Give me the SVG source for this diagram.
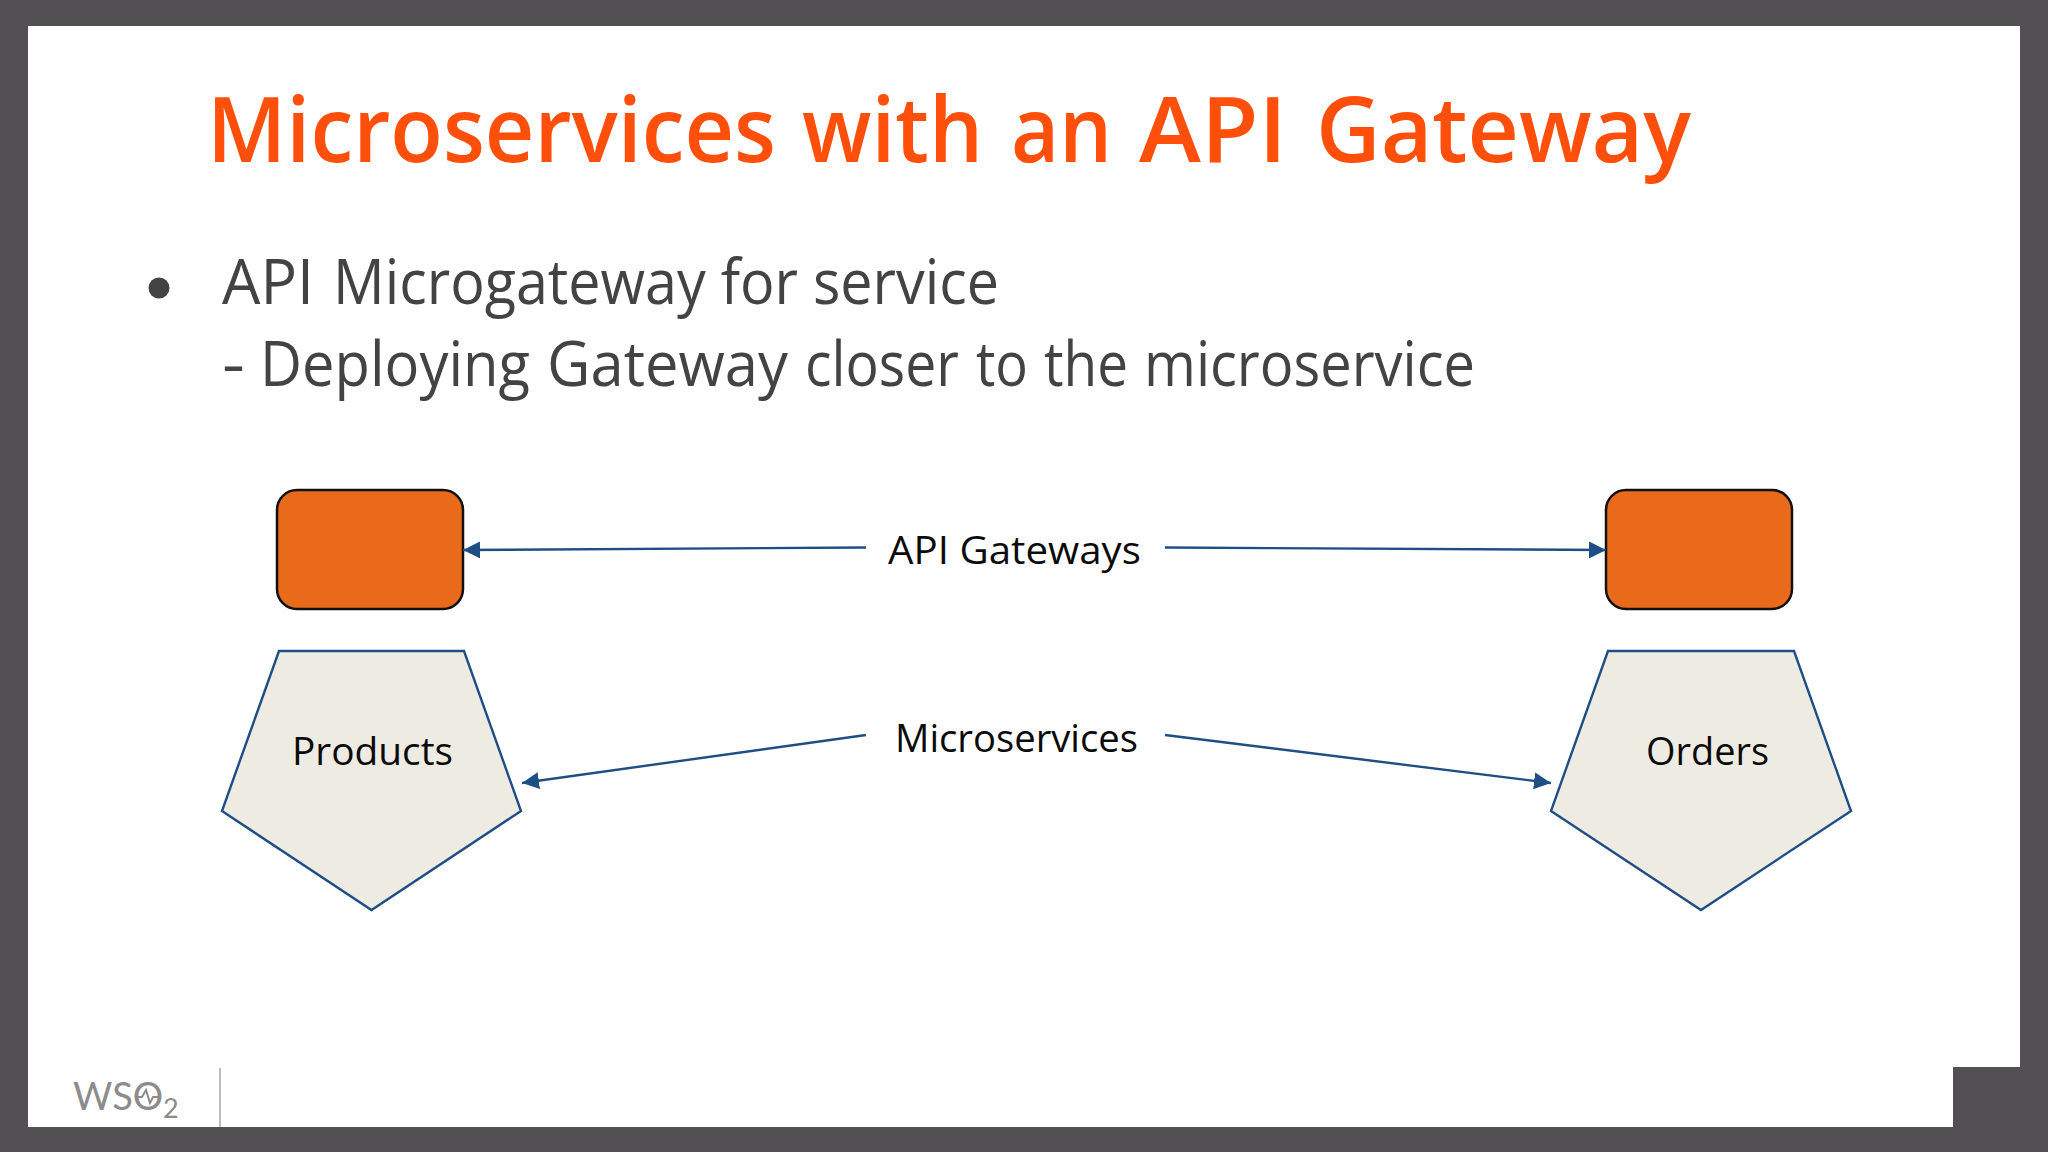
<svg xmlns="http://www.w3.org/2000/svg" width="2048" height="1152" viewBox="0 0 2048 1152">
<style>
text{font-family:"Open Sans","Noto Sans","Liberation Sans",sans-serif}
.title{font-size:91px;font-weight:600;fill:#ff4f0a}
.body{font-size:63px;fill:#434343}
.lbl{font-size:39px;fill:#0b0b0b}
.gw{fill:#e96a1a;stroke:#111;stroke-width:2.5}
.ms{fill:#eeebe3;stroke:#1f4e85;stroke-width:2.4;stroke-linejoin:miter}
.cn{fill:none;stroke:#1f4e85;stroke-width:2.4;marker-end:url(#ah)}
.logo{fill:#8c8c8c;font-family:"Lato","Liberation Sans",sans-serif;font-weight:400}
</style>
<defs><marker id="ah" markerUnits="userSpaceOnUse" markerWidth="18" markerHeight="18" refX="17" refY="8.500" orient="auto"><path d="M0 0L17 8.500L0 17Z" fill="#1f4e85"/></marker></defs>
<rect width="2048" height="1152" fill="#525052"/>
<path d="M28 26H2020V1067H1953V1127H28Z" fill="#fff"/>
<text class="title" y="162"><tspan x="207" textLength="569" lengthAdjust="spacingAndGlyphs">Microservices</tspan> <tspan x="802" textLength="181" lengthAdjust="spacingAndGlyphs">with</tspan> <tspan x="1011" textLength="101" lengthAdjust="spacingAndGlyphs">an</tspan> <tspan x="1139" textLength="148" lengthAdjust="spacingAndGlyphs">API</tspan> <tspan x="1316" textLength="375" lengthAdjust="spacingAndGlyphs">Gateway</tspan></text>
<circle cx="159" cy="288" r="10.500" fill="#434343"/>
<text class="body" y="304"><tspan x="222" textLength="92" lengthAdjust="spacingAndGlyphs">API</tspan> <tspan x="333" textLength="666" lengthAdjust="spacingAndGlyphs">Microgateway for service</tspan></text>
<text class="body" y="386"><tspan x="222" textLength="23" lengthAdjust="spacingAndGlyphs">-</tspan> <tspan x="260" textLength="270" lengthAdjust="spacingAndGlyphs">Deploying</tspan> <tspan x="547" textLength="241" lengthAdjust="spacingAndGlyphs">Gateway</tspan> <tspan x="805" textLength="154" lengthAdjust="spacingAndGlyphs">closer</tspan> <tspan x="976" textLength="52" lengthAdjust="spacingAndGlyphs">to</tspan> <tspan x="1044" textLength="84" lengthAdjust="spacingAndGlyphs">the</tspan> <tspan x="1144" textLength="331" lengthAdjust="spacingAndGlyphs">microservice</tspan></text>
<g id="gateway-left"><rect class="gw" x="277" y="490" width="186" height="119" rx="20"/></g>
<g id="gateway-right"><rect class="gw" x="1606" y="490" width="186" height="119" rx="20"/></g>
<g id="products"><polygon class="ms" points="279,651 464,651 521,811 371.500,910 222,811"/><text class="lbl" x="292" y="765" textLength="161" lengthAdjust="spacingAndGlyphs">Products</text></g>
<g id="orders"><polygon class="ms" points="1608,651 1794,651 1851,811 1701,910 1551,811"/><text class="lbl" x="1646" y="765" textLength="123" lengthAdjust="spacingAndGlyphs">Orders</text></g>
<g id="label-gateways"><text class="lbl" x="888" y="564" textLength="253" lengthAdjust="spacingAndGlyphs">API Gateways</text></g>
<g id="label-microservices"><text class="lbl" x="895" y="752" textLength="243" lengthAdjust="spacingAndGlyphs">Microservices</text></g>
<g id="connectors">
<path class="cn" d="M866 547.500L463 550"/>
<path class="cn" d="M1165 547.500L1606 550"/>
<path class="cn" d="M866 735L522 783"/>
<path class="cn" d="M1165 735L1551 783"/>
</g>
<g id="logo">
<text class="logo" font-size="38" x="73" y="1110">WSO<tspan x="163" y="1118" font-size="27">2</tspan></text>
<polyline points="137,1097 142,1097 146,1090 150,1103 153,1097 158,1097" fill="none" stroke="#8c8c8c" stroke-width="2"/>
<line x1="220" y1="1068" x2="220" y2="1127" stroke="#bdbdbd" stroke-width="2"/>
</g>
</svg>
